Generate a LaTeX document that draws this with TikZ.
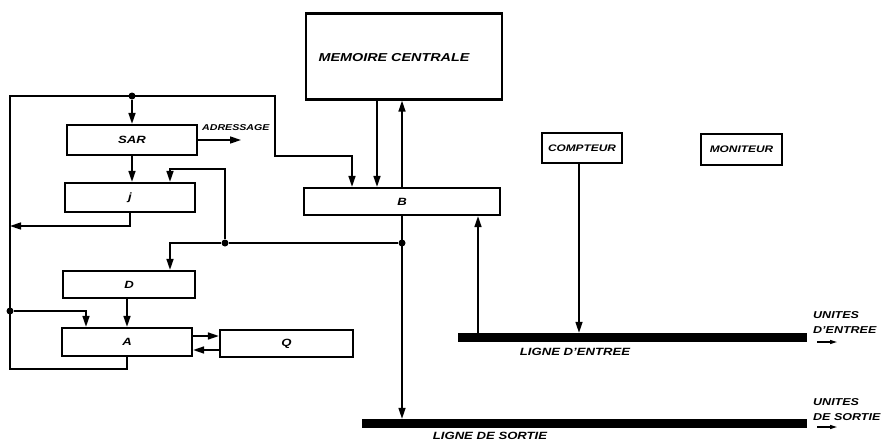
\documentclass[tikz,border=0pt]{standalone}
\usepackage{fontspec}
\setmainfont{Liberation Sans}[FakeStretch=1.25]
\usetikzlibrary{arrows.meta,calc}
\newcommand\myfs[1]{\fontsize{#1}{#1}\selectfont\bfseries\itshape}
\tikzset{
  box/.style={draw,line width=2.3pt,inner sep=0pt,font=\myfs{10.5}},
  conn/.style={line width=1.6pt},
  arr/.style={conn,-{Triangle[length=11pt,width=7pt]}},
  smallarr/.style={line width=1.2pt,-{Triangle[length=7pt,width=4pt]}},
  bus/.style={fill=black,inner sep=0pt,minimum height=9pt},
  dot/.style={circle,fill=black,inner sep=0pt,minimum size=7pt},
  lbl/.style={inner sep=0pt,font=\myfs{10}}
}
\begin{document}
\begin{tikzpicture}[x=1pt,y=-1pt]
\useasboundingbox (0,0) rectangle (884,447);
% boxes
\node[box,minimum width=196pt,minimum height=86pt] (mem) at (404,56.5) {};
\node[lbl,font=\myfs{11.5}] (memt) at (394,58) {MEMOIRE CENTRALE};
\node[box,minimum width=130pt,minimum height=30pt] (sar) at (132,140) {SAR};
\node[box,minimum width=130pt,minimum height=29pt] (j) at (130,197.5) {j};
\node[box,minimum width=132pt,minimum height=27pt] (d) at (129,284.5) {D};
\node[box,minimum width=130pt,minimum height=28pt] (a) at (127,342) {A};
\node[box,minimum width=133pt,minimum height=27pt] (q) at (286.5,343.5) {Q};
\node[box,minimum width=196pt,minimum height=27pt] (b) at (402,201.5) {B};
\node[box,minimum width=80pt,minimum height=30pt,font=\myfs{9.5}] (cpt) at (582,148) {COMPTEUR};
\node[box,minimum width=81pt,minimum height=31pt,font=\myfs{9.5}] (mon) at (741.5,149.5) {MONITEUR};
% buses
\node[bus,minimum width=349pt] (entree) at (632.5,337.5) {};
\node[bus,minimum width=445pt] (sortie) at (584.5,423.5) {};
% labels
\node[lbl,font=\myfs{8.5},anchor=west] (adr) at (202,128) {ADRESSAGE};
\node[lbl,font=\myfs{10.5}] (le) at (575,352) {LIGNE D'ENTREE};
\node[lbl,font=\myfs{10.5}] (ls) at (490,436) {LIGNE DE SORTIE};
\node[lbl,align=left,anchor=west,font=\fontsize{10}{15}\selectfont\bfseries\itshape] (ue) at (813,322.5) {UNITES\\D'ENTREE};
\node[lbl,align=left,anchor=west,font=\fontsize{10}{15}\selectfont\bfseries\itshape] (us) at (813,409.5) {UNITES\\DE SORTIE};
\coordinate (ue1) at (817,342);
\coordinate (ue2) at (837,342);
\coordinate (us1) at (817,427);
\coordinate (us2) at (837,427);
\draw[smallarr] (ue1) -- (ue2);
\draw[smallarr] (us1) -- (us2);
% coordinates
\coordinate (tl) at (10,96);
\coordinate (bend) at (275,156);
\coordinate (bx) at (352,0);
\coordinate (ax) at (86,0);
\coordinate (jl) at (10,226);
\coordinate (adrend) at (241,140);
\coordinate (busy) at (0,243);
\coordinate (dx) at (170,0);
\coordinate (topj) at (170,169);
\coordinate (ex) at (478,0);
% left loop
\draw[arr] (a.south) -- ++(0,12) -| (tl) -| (bend) -| (bx |- b.north);
\node[dot] (d1) at (sar.north |- tl) {};
\draw[arr] (d1) -- (sar.north);
\node[dot] (d2) at (10,311) {};
\draw[arr] (d2) -| (ax |- a.north);
\draw[arr] (j.south) |- (jl);
\draw[arr] (sar.south) -- (sar.south |- j.north);
\draw[arr] (sar.east) -- (adrend);
% memory <-> B
\draw[arr] ([xshift=-27pt]mem.south) -- ([xshift=-27pt]mem.south |- b.north);
\draw[arr] (b.north) -- (b.north |- mem.south);
% B bottom
\draw[arr] (b.south) -- (b.south |- sortie.north);
\node[dot] (d3) at (b.south |- busy) {};
\node[dot] (d4) at (225,243) {};
\draw[conn] (d3) -- (d4);
\draw[arr] (d4) -| (dx |- d.north);
\draw[arr] (d4) |- (topj) -- (topj |- j.north);
% D -> A, A <-> Q
\draw[arr] (d.south -| a.north) -- (a.north);
\draw[arr] ([yshift=6pt]a.east) -- ([yshift=6pt]a.east -| q.west);
\draw[arr] ([yshift=-8pt]a.east -| q.west) -- ([yshift=-8pt]a.east);
% input line
\draw[arr] (ex |- entree.north) -- (ex |- b.south);
\draw[arr] ([xshift=-3pt]cpt.south) -- ([xshift=-3pt]cpt.south |- entree.north);
\end{tikzpicture}
\end{document}
